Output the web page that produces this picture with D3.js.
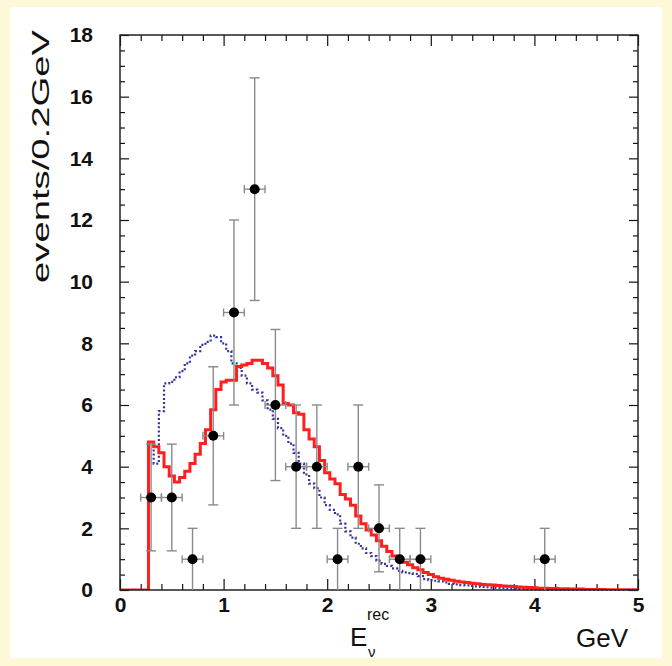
<!DOCTYPE html>
<html><head><meta charset="utf-8">
<script src="https://cdn.jsdelivr.net/npm/d3@7/dist/d3.min.js"></script>
<style>html,body{margin:0;padding:0;background:#fdf9d8;} svg{display:block}</style>
</head><body><svg id="c" width="672" height="666"></svg>
<script>
// ---------- data ----------
const xTickValues = [0, 1, 2, 3, 4, 5];
const xTickLabels = ["0", "1", "2", "3", "4", "5"];
const yTickValues = [0, 2, 4, 6, 8, 10, 12, 14, 16, 18];
const yTickLabels = ["0", "2", "4", "6", "8", "10", "12", "14", "16", "18"];

// data points (bin centre, events, error)
const pointE = [0.3, 0.5, 0.7, 0.9, 1.1, 1.3, 1.5, 1.7, 1.9, 2.1, 2.3, 2.5, 2.7, 2.9, 4.1];
const pointN = [3, 3, 1, 5, 9, 13, 6, 4, 4, 1, 4, 2, 1, 1, 1];
const pointErr = [1.73, 1.73, 1, 2.24, 3, 3.61, 2.45, 2, 2, 1, 2, 1.41, 1, 1, 1];
const pointHalfWidth = 0.1;

// MC histograms: first bin lower edge, bin width, contents
const histStart = 0.275;
const histBin = 0.05;
const redMC = [4.8, 4.65, 4.45, 4.0, 3.7, 3.5, 3.65, 3.85, 4.1, 4.4,
  4.75, 5.2, 5.85, 6.5, 6.75, 6.8, 6.8, 7.25, 7.3, 7.35,
  7.45, 7.45, 7.35, 7.2, 6.95, 6.65, 6.05, 6.0, 5.75, 5.7,
  5.2, 4.9, 4.65, 4.2, 3.8, 3.6, 3.45, 3.1, 2.95, 2.75,
  2.4, 2.15, 1.95, 1.78, 1.6, 1.42, 1.25, 1.1, 1.0, 0.9,
  0.82, 0.72, 0.66, 0.57, 0.5, 0.43, 0.38, 0.35, 0.32, 0.28,
  0.26, 0.24, 0.22, 0.2, 0.18, 0.17, 0.16, 0.15, 0.13, 0.12,
  0.11, 0.1, 0.09, 0.08, 0.07, 0.06, 0.06, 0.05, 0.05, 0.04,
  0.04, 0.03, 0.03, 0.03, 0.02, 0.02, 0.02, 0.02, 0.01, 0.01,
  0.01, 0.01, 0.01, 0.01];
const blueMC = [4.8, 4.1, 5.8, 6.7, 6.75, 6.9, 7.1, 7.35, 7.6, 7.75,
  7.95, 8.05, 8.25, 8.2, 8.0, 7.75, 7.35, 7.2, 6.95, 6.7,
  6.5, 6.4, 6.15, 5.85, 5.55, 5.25, 5.0, 4.75, 4.45, 4.1,
  3.75, 3.45, 3.3, 3.0, 2.75, 2.6, 2.45, 2.15, 1.9, 1.7,
  1.5, 1.35, 1.2, 1.1, 0.95, 0.85, 0.78, 0.7, 0.62, 0.57,
  0.55, 0.52, 0.45, 0.35, 0.32, 0.3, 0.28, 0.25, 0.2, 0.18,
  0.16, 0.15, 0.13, 0.12, 0.1, 0.09, 0.08, 0.07, 0.06, 0.05,
  0.04, 0.03, 0.03, 0.02, 0.02, 0.01];

// ---------- drawing ----------
const svg = d3.select("#c");
svg.append("rect").attr("width", 672).attr("height", 666).attr("fill", "#fdf9d8");
svg.append("rect").attr("x", 10).attr("y", 7).attr("width", 652).attr("height", 651).attr("fill", "#ffffff");

const x = d3.scaleLinear().domain([0, 5]).range([120, 638]);
const y = d3.scaleLinear().domain([0, 18]).range([590, 35]);

const xMinor = d3.range(0, 5.0001, 0.2).map(v => +v.toFixed(2)).filter(v => Math.abs(v - Math.round(v)) > 1e-6);
const yMinor = d3.range(0, 18.0001, 0.5).filter(v => v % 2 !== 0);

function styleAxis(g) {
  g.select(".domain").remove();
  g.selectAll(".tick line").attr("stroke", "#111").attr("stroke-width", 1.2);
}
const tickFont = "'Liberation Sans', Arial, Helvetica, sans-serif";

// bottom
svg.append("g").attr("transform", `translate(0,${y(0)})`)
  .call(d3.axisBottom(x).tickValues(xTickValues).tickFormat((d, i) => xTickLabels[i]).tickSize(-11).tickPadding(7))
  .call(styleAxis)
  .call(g => g.selectAll("text").attr("font-family", tickFont).attr("font-weight", "bold").attr("font-size", 21).attr("fill", "#111"));
svg.append("g").attr("transform", `translate(0,${y(0)})`)
  .call(d3.axisBottom(x).tickValues(xMinor).tickFormat("").tickSize(-6)).call(styleAxis);
// top
svg.append("g").attr("transform", `translate(0,${y(18)})`)
  .call(d3.axisTop(x).tickValues(xTickValues).tickFormat("").tickSize(-11)).call(styleAxis);
svg.append("g").attr("transform", `translate(0,${y(18)})`)
  .call(d3.axisTop(x).tickValues(xMinor).tickFormat("").tickSize(-6)).call(styleAxis);
// left
svg.append("g").attr("transform", `translate(${x(0)},0)`)
  .call(d3.axisLeft(y).tickValues(yTickValues).tickFormat((d, i) => yTickLabels[i]).tickSize(-9).tickPadding(27))
  .call(styleAxis)
  .call(g => g.selectAll("text").attr("font-family", tickFont).attr("font-weight", "bold").attr("font-size", 21).attr("fill", "#111"));
svg.append("g").attr("transform", `translate(${x(0)},0)`)
  .call(d3.axisLeft(y).tickValues(yMinor).tickFormat("").tickSize(-5)).call(styleAxis);
// right
svg.append("g").attr("transform", `translate(${x(5)},0)`)
  .call(d3.axisRight(y).tickValues(yTickValues).tickFormat("").tickSize(-9)).call(styleAxis);
svg.append("g").attr("transform", `translate(${x(5)},0)`)
  .call(d3.axisRight(y).tickValues(yMinor).tickFormat("").tickSize(-5)).call(styleAxis);

// histograms
function histPoints(vals) {
  const pts = [[0, 0]];
  vals.forEach((v, i) => pts.push([histStart + i * histBin, v]));
  pts.push([histStart + vals.length * histBin, 0]);
  pts.push([5, 0]);
  return pts;
}
const line = d3.line().x(d => x(d[0])).y(d => y(d[1])).curve(d3.curveStepAfter);
svg.append("clipPath").attr("id", "pc").append("rect")
  .attr("x", x(0)).attr("y", y(18) - 2).attr("width", x(5) - x(0) + 1).attr("height", y(0) - y(18) + 2);

const bluePts = histPoints(blueMC).slice(1);
svg.append("path").attr("d", line(bluePts)).attr("fill", "none")
  .attr("stroke", "#34349e").attr("stroke-width", 2.2).attr("stroke-dasharray", "2,2.2");
svg.append("path").attr("d", line(histPoints(redMC))).attr("fill", "none")
  .attr("stroke", "#ff1f1f").attr("stroke-width", 3).attr("clip-path", "url(#pc)");

// frame
svg.append("rect").attr("x", x(0)).attr("y", y(18)).attr("width", x(5) - x(0)).attr("height", y(0) - y(18))
  .attr("fill", "none").attr("stroke", "#222").attr("stroke-width", 1.5);

// data points
const pts = pointE.map((e, i) => ({ e, n: pointN[i], err: pointErr[i] }));
const eg = svg.append("g").attr("stroke", "#8a8a8a").attr("stroke-width", 1.4);
pts.forEach(p => {
  const cx = x(p.e), cy = y(p.n);
  const top = y(p.n + p.err), bot = y(Math.max(0, p.n - p.err));
  eg.append("line").attr("x1", cx).attr("x2", cx).attr("y1", top).attr("y2", bot);
  eg.append("line").attr("x1", cx - 5).attr("x2", cx + 5).attr("y1", top).attr("y2", top);
  if (p.n - p.err > 0.001) eg.append("line").attr("x1", cx - 5).attr("x2", cx + 5).attr("y1", bot).attr("y2", bot);
  const l = x(p.e - pointHalfWidth), r = x(p.e + pointHalfWidth);
  eg.append("line").attr("x1", l).attr("x2", r).attr("y1", cy).attr("y2", cy);
  eg.append("line").attr("x1", l).attr("x2", l).attr("y1", cy - 4).attr("y2", cy + 4);
  eg.append("line").attr("x1", r).attr("x2", r).attr("y1", cy - 4).attr("y2", cy + 4);
});
svg.append("g").selectAll("circle").data(pts).join("circle")
  .attr("cx", d => x(d.e)).attr("cy", d => y(d.n)).attr("r", 5).attr("fill", "#000");

// titles
const titleFont = "'Liberation Sans', Arial, Helvetica, sans-serif";
svg.append("text").attr("transform", "translate(49,30) rotate(-90)")
  .attr("text-anchor", "end").attr("font-family", titleFont).attr("font-size", 24)
  .attr("textLength", 253).attr("lengthAdjust", "spacingAndGlyphs")
  .attr("fill", "#111").text("events/0.2GeV");

svg.append("text").attr("x", 350).attr("y", 646).attr("font-family", titleFont).attr("fill", "#111")
  .attr("font-size", 26).text("E");
svg.append("text").attr("x", 367).attr("y", 620).attr("font-family", titleFont).attr("fill", "#111")
  .attr("font-size", 16).text("rec");
svg.append("text").attr("x", 368).attr("y", 657).attr("font-family", titleFont).attr("fill", "#111")
  .attr("font-size", 15).text("ν");
svg.append("text").attr("x", 576).attr("y", 647).attr("font-family", titleFont).attr("font-size", 26)
  .attr("fill", "#111").text("GeV");
</script></body></html>
